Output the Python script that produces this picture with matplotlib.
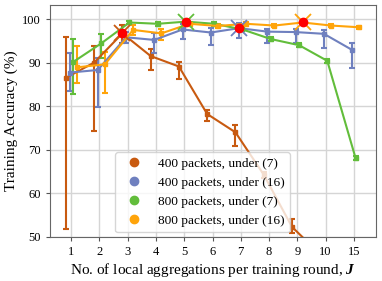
"""
Training accuracy vs. number of local aggregations per training round.
"""

import numpy as np
import matplotlib
matplotlib.use("Agg")
import matplotlib.pyplot as plt
from matplotlib.lines import Line2D


J_LABELS = ["1", "2", "3", "4", "5", "6", "7", "8", "9", "10", "15"]

# mean accuracy (%) and lower / upper error-bar ends
acc_400_7 = [86.5, 90.0, 96.7, 91.5, 89.1, 78.2, 74.0, 64.3, 52.3, 46.0, 40.0]
low_400_7 = [51.7, 74.4, 94.4, 88.3, 86.2, 76.5, 70.9, 63.6, 50.9, 45.0, 39.0]
high_400_7 = [95.9, 93.9, 98.6, 93.1, 90.2, 79.2, 75.7, 65.0, 54.0, 47.0, 41.0]

acc_400_16 = [87.7, 88.3, 95.8, 95.2, 97.6, 96.9, 97.9, 97.1, 97.0, 96.6, 92.9]
low_400_16 = [83.4, 79.9, 94.6, 92.1, 95.4, 94.0, 95.6, 94.4, 94.4, 93.3, 88.7]
high_400_16 = [92.3, 91.1, 97.0, 96.7, 98.9, 97.9, 99.0, 97.7, 97.7, 97.5, 94.4]

acc_800_7 = [90.1, 94.4, 99.2, 98.9, 99.4, 98.9, 97.6, 95.4, 94.0, 90.4, 68.1]
low_800_7 = [82.8, 91.0, 98.8, 98.5, 99.0, 98.5, 97.2, 95.0, 93.6, 90.0, 67.6]
high_800_7 = [95.4, 96.6, 99.6, 99.3, 99.8, 99.3, 98.0, 95.8, 94.4, 90.8, 68.6]

acc_800_16 = [88.9, 89.6, 97.5, 96.7, 98.9, 98.4, 98.9, 98.5, 99.2, 98.5, 98.1]
low_800_16 = [85.4, 83.0, 96.3, 95.2, 98.5, 98.0, 98.5, 98.1, 98.8, 98.1, 97.7]
high_800_16 = [93.7, 92.5, 98.6, 97.6, 99.3, 98.8, 99.3, 98.9, 99.6, 98.9, 98.5]

SERIES = [
    ("400 packets, under (7)", acc_400_7, low_400_7, high_400_7, "#c85a10"),
    ("400 packets, under (16)", acc_400_16, low_400_16, high_400_16, "#6f80bf"),
    ("800 packets, under (7)", acc_800_7, low_800_7, high_800_7, "#62bd3b"),
    ("800 packets, under (16)", acc_800_16, low_800_16, high_800_16, "#ffa40a"),
]
OFFSETS = [-0.19, -0.06, 0.06, 0.19]


def main():
    plt.rcParams["font.family"] = ["Liberation Serif", "DejaVu Serif"]
    plt.rcParams["mathtext.fontset"] = "custom"
    plt.rcParams["mathtext.it"] = "Liberation Serif:italic:bold"

    fig = plt.figure(figsize=(3.82, 2.81), dpi=100)
    ax = fig.add_axes([0.131, 0.157, 0.853, 0.825])

    x = np.arange(len(J_LABELS))
    for (label, acc, low, high, color), off in zip(SERIES, OFFSETS):
        acc = np.array(acc)
        yerr = [acc - np.array(low), np.array(high) - acc]
        ax.errorbar(x + off, acc, yerr=yerr, color=color, marker="s",
                    markersize=3.5, linewidth=1.5, elinewidth=1.5,
                    capsize=2.5, capthick=1.5, zorder=3)
        best = int(np.argmax(acc))
        ax.plot(x[best] + off, acc[best], marker="x", color=color,
                markersize=12, markeredgewidth=1.3, linestyle="none", zorder=4)
        ax.plot(x[best] + off, acc[best], marker="o", color="red",
                markersize=6, linestyle="none", zorder=5)

    ax.set_xticks(x)
    ax.set_xticklabels(J_LABELS)
    ax.set_xlim(-0.75, 10.78)
    ax.set_ylim(50, 103.2)
    ax.set_yticks([50, 60, 70, 80, 90, 100])
    ax.tick_params(labelsize=9, color="#555555", length=3)
    ax.grid(True, color="#d5d5d5", linewidth=1.0)
    ax.set_axisbelow(True)
    for sp in ax.spines.values():
        sp.set_color("#666666")

    ax.set_xlabel("No. of local aggregations per training round, $J$", fontsize=11,
                  labelpad=2)
    ax.set_ylabel("Training Accuracy (%)", fontsize=11, labelpad=3)

    handles = [Line2D([], [], marker="o", color=s[4], linestyle="none", markersize=6)
               for s in SERIES]
    ax.legend(handles, [s[0] for s in SERIES], loc="lower left",
              bbox_to_anchor=(0.2, 0.02), fontsize=9.6, borderaxespad=0,
              handletextpad=0.8)

    fig.savefig("out.png", dpi=100)
    plt.close(fig)


if __name__ == "__main__":
    main()
